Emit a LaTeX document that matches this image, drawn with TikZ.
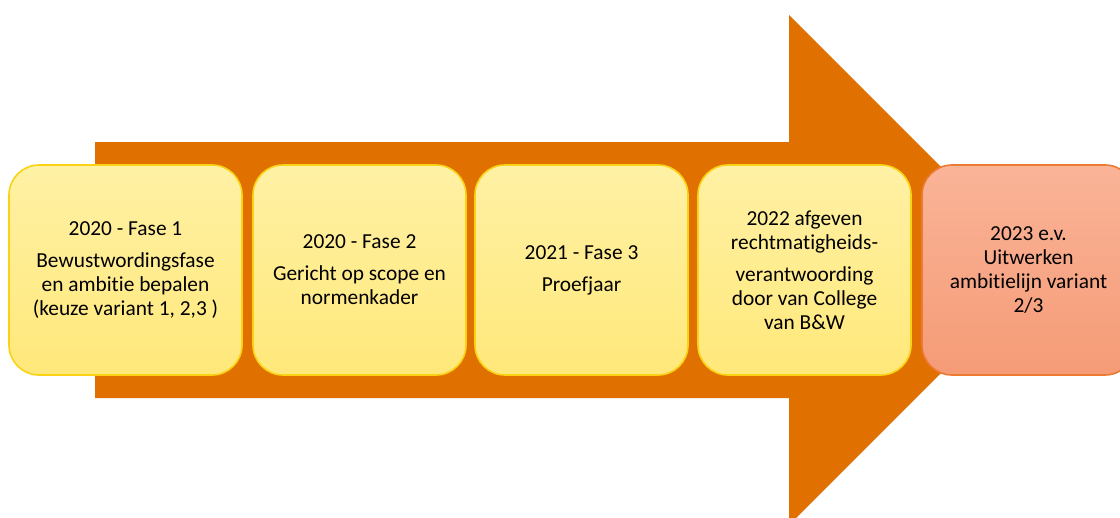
\documentclass[tikz,border=0pt]{standalone}
\usepackage{fontspec}
\setmainfont{Carlito}[Ligatures=NoCommon]
\usepackage{xcolor}
\definecolor{pijl}{RGB}{224,112,0}
\definecolor{geeltop}{RGB}{255,241,165}
\definecolor{geelbodem}{RGB}{255,232,122}
\definecolor{geelrand}{RGB}{250,210,20}
\definecolor{zalmtop}{RGB}{250,180,152}
\definecolor{zalmbodem}{RGB}{245,155,118}
\definecolor{zalmrand}{RGB}{236,122,50}

\begin{document}
\begin{tikzpicture}[
  x=0.25mm,y=-0.25mm,
  fase/.style={draw=geelrand,line width=0.4mm,rounded corners=7.5mm,
               top color=geeltop,bottom color=geelbodem,align=center,
               minimum width=53.25mm,minimum height=52.5mm,
               font=\fontsize{15.2}{17}\selectfont},
  slot/.style={fase,draw=zalmrand,top color=zalmtop,bottom color=zalmbodem}
]
\useasboundingbox (0,0) rectangle (1120,517);
\fill[pijl] (95,142) -- (789,142) -- (789,15) -- (1044,270)
  -- (789,525) -- (789,398) -- (95,398) -- cycle;
\node[fase,minimum width=58.25mm] (fase1) at (125.5,270)
  {2020 - Fase 1\\[2mm]Bewustwordingsfase\\en ambitie bepalen\\(keuze variant 1, 2,3 )};
\node[fase] (fase2) at (359.5,270)
  {2020 - Fase 2\\[2mm]Gericht op scope en\\normenkader};
\node[fase] (fase3) at (581.5,270) {2021 - Fase 3\\[2mm]Proefjaar};
\node[fase] (fase4) at (804.5,270)
  {2022 afgeven\\rechtmatigheids-\\[2mm]verantwoording\\door van College\\van B\&W};
\node[slot] (vervolg) at (1028.5,270)
  {2023 e.v.\\Uitwerken\\ambitielijn variant\\2/3};
\end{tikzpicture}
\end{document}
